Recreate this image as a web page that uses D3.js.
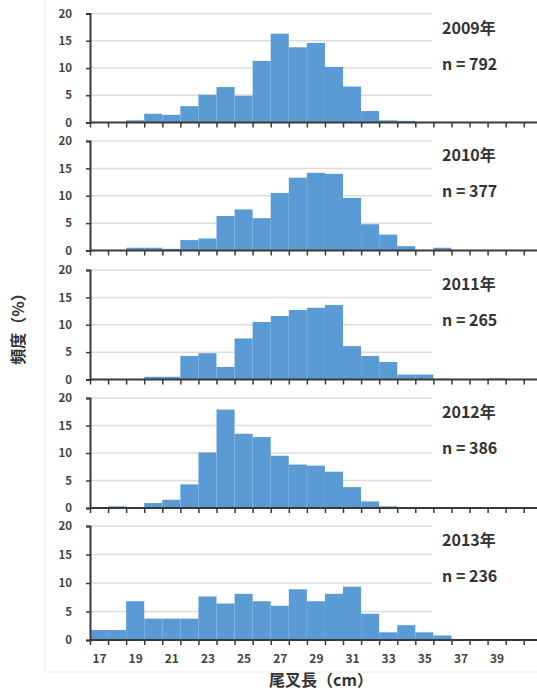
<!DOCTYPE html>
<html>
<head>
<meta charset="utf-8">
<script src="https://cdn.jsdelivr.net/npm/d3@7/dist/d3.min.js"></script>
<style>
  html, body { margin: 0; padding: 0; background: #fff; }
  svg { display: block; }
  text { font-family: "Noto Sans CJK JP", "Noto Sans", sans-serif; }
</style>
</head>
<body>
<svg id="chart" width="537" height="690"></svg>
<script>
// Fork-length classes (cm), one bin per centimetre
const lengths = d3.range(17, 42);
const xTickLabels = [17, 19, 21, 23, 25, 27, 29, 31, 33, 35, 37, 39];
const yTicks = [0, 5, 10, 15, 20];

const years = ["2009年", "2010年", "2011年", "2012年", "2013年"];
const sampleSizes = [792, 377, 265, 386, 236];

// Frequency (%) per length class, 17 cm .. 41 cm
const freq2009 = [0, 0, 0.4, 1.6, 1.4, 3.0, 5.1, 6.5, 4.9, 11.3, 16.3, 13.8, 14.6, 10.2, 6.6, 2.1, 0.4, 0.3, 0, 0, 0, 0, 0, 0, 0];
const freq2010 = [0, 0, 0.5, 0.5, 0.3, 1.9, 2.2, 6.3, 7.5, 5.9, 10.5, 13.3, 14.2, 14.0, 9.6, 4.8, 2.9, 0.8, 0, 0.5, 0, 0, 0, 0, 0];
const freq2011 = [0, 0, 0, 0.5, 0.5, 4.3, 4.8, 2.3, 7.5, 10.5, 11.6, 12.7, 13.1, 13.6, 6.1, 4.3, 3.2, 0.9, 0.9, 0.15, 0, 0, 0.2, 0, 0];
const freq2012 = [0, 0.3, 0, 0.9, 1.5, 4.3, 10.1, 17.9, 13.5, 12.9, 9.5, 7.9, 7.7, 6.6, 3.8, 1.2, 0.3, 0.1, 0, 0, 0, 0, 0, 0, 0];
const freq2013 = [1.75, 1.75, 6.8, 3.75, 3.75, 3.75, 7.65, 6.4, 8.1, 6.8, 6.0, 8.9, 6.8, 8.1, 9.35, 4.6, 1.35, 2.6, 1.35, 0.8, 0, 0, 0, 0, 0];
const series = [freq2009, freq2010, freq2011, freq2012, freq2013];

// Vertical placement of each panel: [top of 20 %, baseline]
const panelRanges = [[13.5, 122.5], [141, 250.5], [270, 379.5], [398, 508], [526, 640]];

const svg = d3.select("#chart");
const barColor = "#5b9bd5";
const axisColor = "#3a3a3a";
const gridColor = "#dcdcdc";
const gridEnd = 432;

// faint frame on the left
svg.append("rect")
  .attr("x", 45).attr("y", -2).attr("width", 600).attr("height", 674)
  .attr("fill", "none").attr("stroke", "#ececec").attr("stroke-width", 1);

const x = d3.scaleLinear().domain([16.5, 41.5]).range([90, 541.8]);
const binEdges = d3.range(16.5, 42, 1);

series.forEach((values, i) => {
  const [yTop, yBase] = panelRanges[i];
  const y = d3.scaleLinear().domain([0, 20]).range([yBase, yTop]);
  const g = svg.append("g");

  // horizontal gridlines
  g.selectAll("line.grid").data(yTicks.filter(t => t > 0)).join("line")
    .attr("x1", x(16.5)).attr("x2", gridEnd)
    .attr("y1", d => y(d)).attr("y2", d => y(d))
    .attr("stroke", gridColor).attr("stroke-width", 1.5);

  // histogram bars
  g.selectAll("rect.bar").data(values.map((v, k) => ({ len: lengths[k], v })).filter(d => d.v > 0)).join("rect")
    .attr("x", d => x(d.len - 0.5))
    .attr("width", d => x(d.len + 0.5) - x(d.len - 0.5))
    .attr("y", d => y(d.v))
    .attr("height", d => y(0) - y(d.v))
    .attr("fill", barColor);

  // y axis
  const yAxis = d3.axisLeft(y).tickValues(yTicks).tickSize(4).tickPadding(14);
  const ya = g.append("g").attr("transform", `translate(${x(16.5)},0)`).call(yAxis);
  ya.select(".domain").attr("stroke", axisColor).attr("stroke-width", 2);
  ya.selectAll(".tick line").attr("stroke", axisColor).attr("stroke-width", 1.5);
  ya.selectAll(".tick text").attr("fill", "#444").attr("font-size", 11.5).attr("font-weight", 600);

  // x axis with ticks at class boundaries
  const xAxis = d3.axisBottom(x).tickValues(binEdges).tickSize(5).tickFormat("");
  const xa = g.append("g").attr("transform", `translate(0,${y(0)})`).call(xAxis);
  xa.select(".domain").attr("stroke", axisColor).attr("stroke-width", 2).attr("d", `M${x(16.5)},0H${x(41.5)}`);
  xa.selectAll(".tick line").attr("stroke", axisColor).attr("stroke-width", 1.5);

  // year and sample size
  g.append("text").attr("x", 442).attr("y", yTop + 20)
    .attr("font-size", 16).attr("font-weight", 700).attr("fill", "#333")
    .text(years[i]);
  g.append("text").attr("x", 442).attr("y", yTop + 56)
    .attr("font-size", 16).attr("font-weight", 700).attr("fill", "#333")
    .text(`n = ${sampleSizes[i]}`);

  if (i === series.length - 1) {
    const labelAxis = d3.axisBottom(x).tickValues(xTickLabels).tickSize(0).tickPadding(14);
    const la = g.append("g").attr("transform", `translate(0,${y(0)})`).call(labelAxis);
    la.select(".domain").remove();
    la.selectAll(".tick text").attr("fill", "#444").attr("font-size", 12).attr("font-weight", 600);
  }
});

// axis titles
svg.append("text")
  .attr("x", 321).attr("y", 686)
  .attr("text-anchor", "middle").attr("font-size", 16).attr("font-weight", 700).attr("fill", "#333")
  .text("尾叉長（cm）");

svg.append("text")
  .attr("transform", "translate(24,325) rotate(-90)")
  .attr("text-anchor", "middle").attr("font-size", 16).attr("font-weight", 700).attr("fill", "#333")
  .text("頻度（%）");
</script>
</body>
</html>
